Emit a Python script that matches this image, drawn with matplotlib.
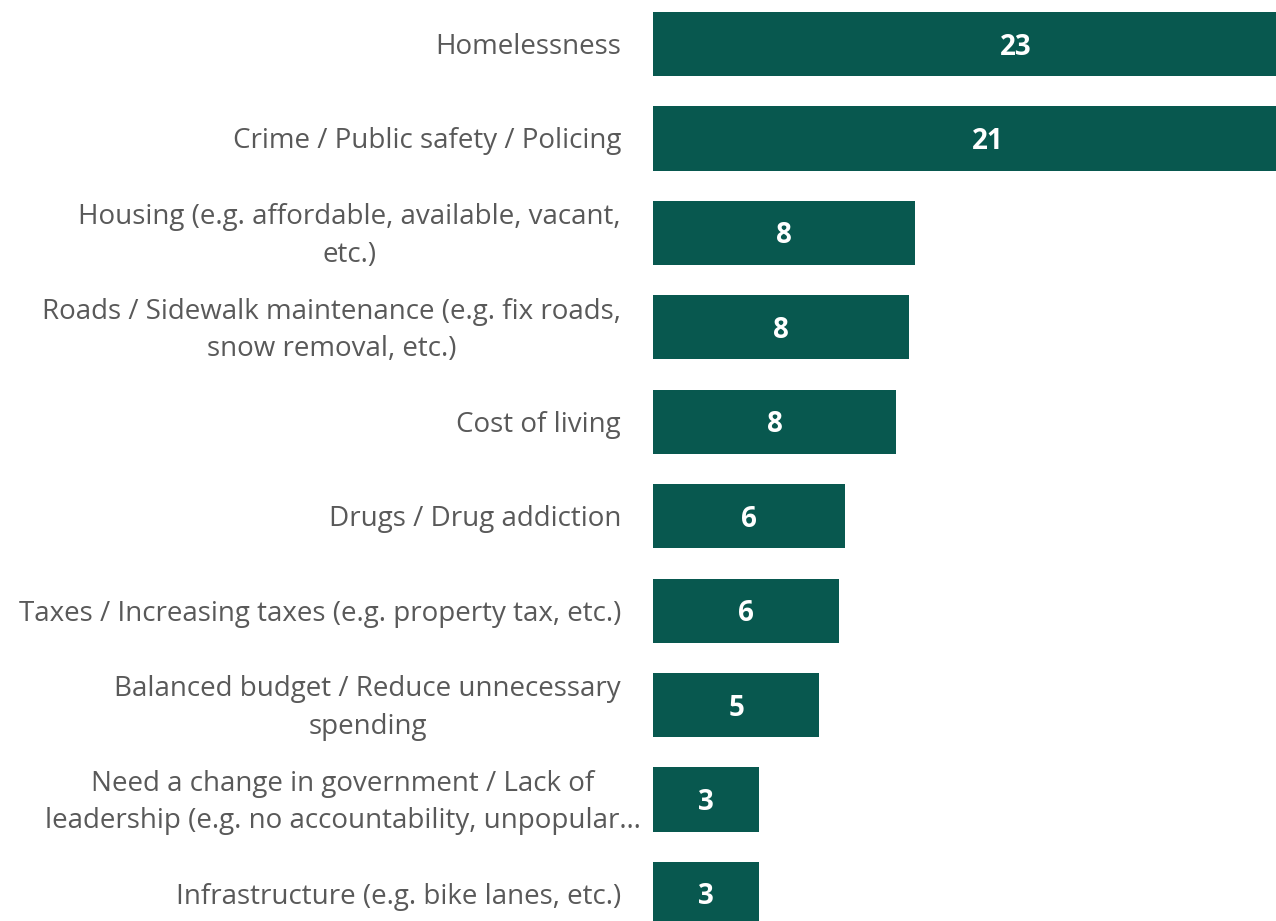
import matplotlib
matplotlib.use("Agg")
import matplotlib.pyplot as plt
from matplotlib.transforms import offset_copy

categories = [
    "Homelessness",
    "Crime / Public safety / Policing",
    "Housing (e.g. affordable, available, vacant,\netc.)",
    "Roads / Sidewalk maintenance (e.g. fix roads,\nsnow removal, etc.)",
    "Cost of living",
    "Drugs / Drug addiction",
    "Taxes / Increasing taxes (e.g. property tax, etc.)",
    "Balanced budget / Reduce unnecessary\nspending",
    "Need a change in government / Lack of\nleadership (e.g. no accountability, unpopular\u2026",
    "Infrastructure (e.g. bike lanes, etc.)",
]
values = [22.7, 20.9, 8.2, 8.0, 7.6, 6.0, 5.8, 5.2, 3.3, 3.3]

BAR_COLOR = "#08584F"
TEXT_COLOR = "#595959"
FONT = ["Open Sans", "DejaVu Sans"]

W, H, DPI = 1276, 921, 100
fig = plt.figure(figsize=(W / DPI, H / DPI), dpi=DPI)
fig.patch.set_facecolor("white")

# plot area spans from the bar baseline to the right edge, full height
left_px = 653
ax = fig.add_axes([left_px / W, 0, 1 - left_px / W, 1])

ypos = list(range(len(categories)))
ax.barh(ypos, values, height=0.68, color=BAR_COLOR, edgecolor="none")

# axis ranges chosen so one unit spans ~32 px and row pitch is ~94 px
ax.set_xlim(0, (W - left_px) / 32.0)
first_center, pitch = 44.0, 94.44
ax.set_ylim((H - first_center) / pitch, -first_center / pitch)

# nudge text slightly down so glyphs sit visually centred on the bars
txt_tr = offset_copy(ax.transData, fig=fig, x=0, y=-3, units="dots")

for y, v in zip(ypos, values):
    ax.text(v / 2, y, f"{v:.0f}", ha="center", va="center", color="white",
            fontsize=20, fontweight="bold", family=FONT, clip_on=True,
            transform=txt_tr)

for y, c in zip(ypos, categories):
    # truncated labels run a little past the usual right margin
    right_px = 641 if c.endswith("\u2026") else 621
    ax.text((right_px - left_px) / 32.0, y, c, ha="right", va="center",
            multialignment="center", color=TEXT_COLOR, fontsize=20,
            family=FONT, clip_on=False, linespacing=1.45, transform=txt_tr)

ax.set_xticks([])
ax.set_yticks([])
for s in ax.spines.values():
    s.set_visible(False)

fig.savefig("out.png", dpi=DPI, facecolor="white")
